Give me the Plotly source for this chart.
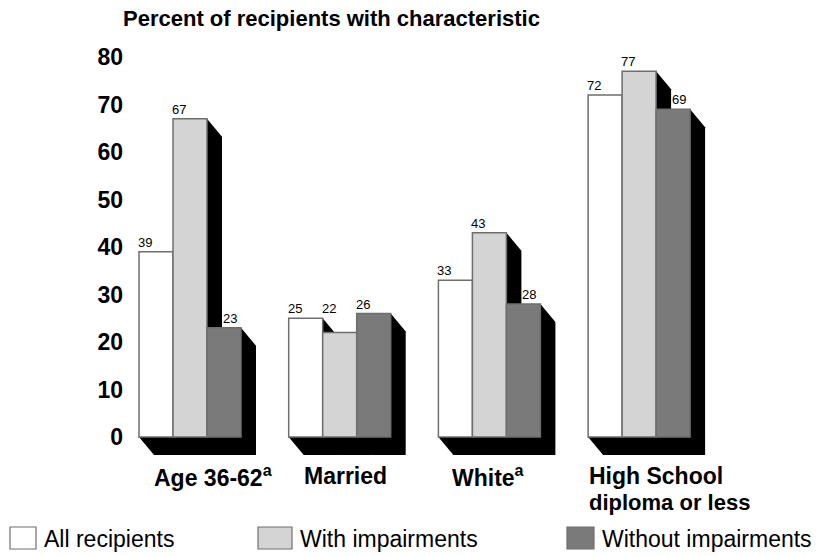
import plotly.graph_objects as go

# ---- data ----
categories = ["Age 36-62<sup>a</sup>", "Married", "White<sup>a</sup>", "High School"]
category_line2 = ["", "", "", "diploma or less"]
series_names = ["All recipients", "With impairments", "Without impairments"]
all_recipients = [39, 25, 33, 72]
with_impairments = [67, 22, 43, 77]
without_impairments = [23, 26, 28, 69]
y_ticks = [0, 10, 20, 30, 40, 50, 60, 70, 80]
title_text = "Percent of recipients with characteristic"

series_values = [all_recipients, with_impairments, without_impairments]
colors = ["#ffffff", "#d4d4d4", "#7a7a7a"]
outline = "#6e6e6e"
FONT = "Liberation Sans"

# ---- geometry (pixel calibration) ----
W, H = 821, 556
L, R, T, B = 130, 730, 50, 462
PX_PER_X = 149.7          # pixels per category unit
PX_PER_Y = 4.75           # pixels per percent
X0_PX = 190               # pixel of first category centre
Y0_PX = 437               # pixel of value 0

def xd(px):
    return (px - X0_PX) / PX_PER_X

def yd(py):
    return (Y0_PX - py) / PX_PER_Y

def xp(px):
    return (px - L) / (R - L)

def yp(py):
    return (B - py) / (B - T)

bw = 34 / PX_PER_X
dx = 15 / PX_PER_X
dy = 18 / PX_PER_Y

fig = go.Figure()
shapes = []
annotations = []

for i, (name, vals) in enumerate(zip(series_names, series_values)):
    xs = [g + (i - 1) * bw for g in range(len(vals))]
    fig.add_trace(go.Bar(
        x=xs, y=vals, width=bw, name=name,
        marker=dict(color=colors[i], line=dict(color=outline, width=1.5)),
        showlegend=False, hoverinfo="skip",
    ))
    for g, (x, h) in enumerate(zip(xs, vals)):
        x0, x1 = x - bw / 2, x + bw / 2
        path = (f"M {x0},{h} L {x1},{h} L {x1+dx},{h-dy} L {x1+dx},{-dy} "
                f"L {x0+dx},{-dy} L {x0},0 Z")
        shapes.append(dict(type="path", path=path, xref="x", yref="y",
                           fillcolor="black", line=dict(width=0), layer="below"))
        shift = 0
        label_y = h
        if i > 0:
            prev = series_values[i - 1][g]
            if h < prev:
                if i == 2:
                    shift = 17
                else:
                    label_y = prev
        annotations.append(dict(
            x=x0, y=label_y, xref="x", yref="y", text=str(h), showarrow=False,
            xanchor="left", yanchor="bottom", xshift=shift - 3, yshift=0,
            font=dict(family=FONT, size=13, color="black"),
        ))

# category labels
cat_pos = [("left", 152), ("center", 345), ("center", 488), ("left", 587)]
for (anchor, px), lab, lab2 in zip(cat_pos, categories, category_line2):
    annotations.append(dict(
        x=xp(px), y=yp(476), xref="paper", yref="paper", text=f"<b>{lab}</b>",
        showarrow=False, xanchor=anchor, yanchor="middle",
        font=dict(family=FONT, size=23, color="black"),
    ))
    if lab2:
        annotations.append(dict(
            x=xp(px), y=yp(502), xref="paper", yref="paper", text=f"<b>{lab2}</b>",
            showarrow=False, xanchor=anchor, yanchor="middle",
            font=dict(family=FONT, size=22, color="black"),
        ))

# title
annotations.append(dict(
    x=xp(121), y=yp(18), xref="paper", yref="paper", text=f"<b>{title_text}</b>",
    showarrow=False, xanchor="left", yanchor="middle",
    font=dict(family=FONT, size=22, color="black"),
))

# legend (manual)
leg_boxes = [(10, 36), (258, 292), (567, 594)]
for (bx0, bx1), name, c in zip(leg_boxes, series_names, colors):
    shapes.append(dict(type="rect", xref="paper", yref="paper",
                       x0=xp(bx0), x1=xp(bx1), y0=yp(549), y1=yp(527),
                       fillcolor=c, line=dict(color=outline, width=1.2)))
    annotations.append(dict(
        x=xp(bx1 + 6), y=yp(539), xref="paper", yref="paper", text=name,
        showarrow=False, xanchor="left", yanchor="middle",
        font=dict(family=FONT, size=23, color="black"),
    ))

fig.update_layout(
    width=W, height=H,
    margin=dict(l=L, r=W - R, t=T, b=H - B, pad=0),
    paper_bgcolor="white", plot_bgcolor="white",
    barmode="overlay",
    shapes=shapes, annotations=annotations,
    xaxis=dict(range=[xd(L), xd(R)], showgrid=False, zeroline=False,
               showline=False, showticklabels=False, fixedrange=True),
    yaxis=dict(range=[yd(B), yd(T)], tickvals=y_ticks, showgrid=False,
               zeroline=False, showline=False, ticks="",
               tickfont=dict(family=FONT, size=23, color="black", weight="bold"),
               ticklabelstandoff=6, fixedrange=True),
)

fig.write_html("out.html", config={"displayModeBar": False},
               post_script="document.body.style.margin='0';document.body.style.overflow='hidden';")
